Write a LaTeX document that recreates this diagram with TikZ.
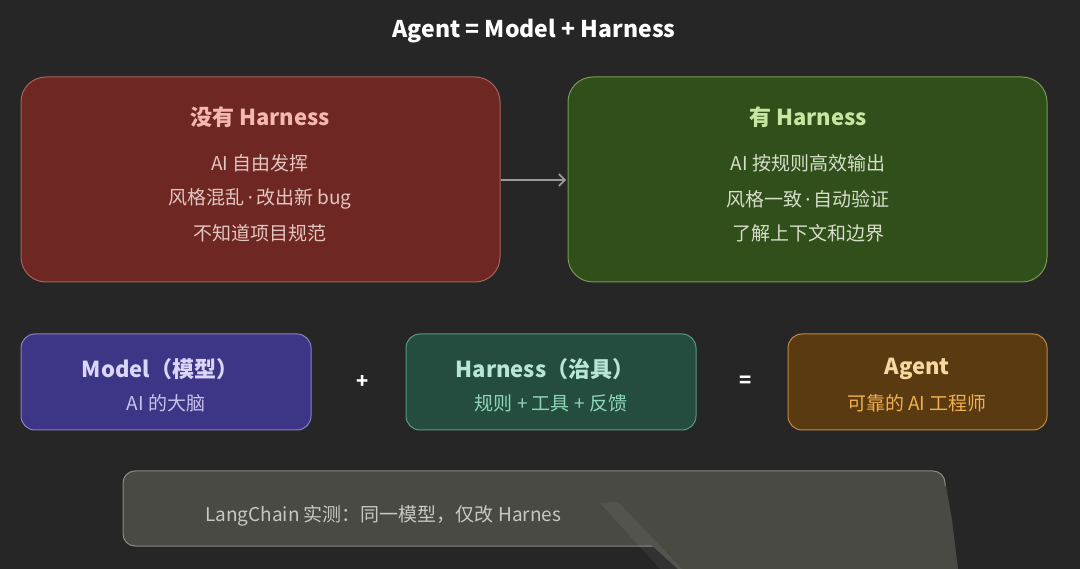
\documentclass[tikz,border=0pt]{standalone}
\usepackage{fontspec}
\setmainfont{Noto Sans CJK SC}
\newfontfamily\lat{Noto Sans}
\usetikzlibrary{arrows.meta}
\definecolor{bg}{HTML}{262626}
\definecolor{redfill}{HTML}{6E2722}
\definecolor{reddraw}{HTML}{A8625C}
\definecolor{redtitle}{HTML}{F4B8B0}
\definecolor{redtext}{HTML}{E2C6C0}
\definecolor{grnfill}{HTML}{304F1A}
\definecolor{grndraw}{HTML}{7A9A50}
\definecolor{grntitle}{HTML}{C6E6A2}
\definecolor{grntext}{HTML}{D6DECA}
\definecolor{modfill}{HTML}{3D3585}
\definecolor{moddraw}{HTML}{8A80C8}
\definecolor{modtitle}{HTML}{DAD6F8}
\definecolor{modtext}{HTML}{C8C2EE}
\definecolor{harfill}{HTML}{244D40}
\definecolor{hardraw}{HTML}{5A9A80}
\definecolor{hartitle}{HTML}{B8E6D6}
\definecolor{hartext}{HTML}{8FD6B6}
\definecolor{agtfill}{HTML}{5A3A10}
\definecolor{agtdraw}{HTML}{C08A40}
\definecolor{agttitle}{HTML}{F8D8A0}
\definecolor{agttext}{HTML}{F0B050}
\definecolor{notefill}{HTML}{4A4A45}
\definecolor{notedraw}{HTML}{8A8A85}
\definecolor{notetext}{HTML}{C8C8C0}
\definecolor{arrowc}{HTML}{9A9A9A}
\tikzset{
  bigbox/.style={rounded corners=25pt, line width=1pt},
  smallbox/.style={rounded corners=14pt, line width=1pt},
  ttl/.style={font=\fontsize{22}{26}\selectfont\bfseries, inner sep=0pt},
  body/.style={font=\fontsize{19}{23}\selectfont, inner sep=0pt},
  op/.style={font=\fontsize{20}{24}\selectfont\bfseries, text=white, inner sep=0pt}
}
\begin{document}
\begin{tikzpicture}[x=1pt,y=-1pt]
\fill[bg] (0,0) rectangle (1080,569);
\useasboundingbox (0,0) rectangle (1080,569);
\node[font=\fontsize{23}{27}\selectfont\bfseries, text=white, inner sep=0pt] (title) at (534,31) {Agent = Model + Harness};

% big boxes
\draw[bigbox, fill=redfill, draw=reddraw] (21,77) rectangle (500,282);
\node[ttl, text=redtitle] (nott) at (260,117) {没有 Harness};
\node[body, text=redtext] (no1) at (260,163) {AI 自由发挥};
\node[body, text=redtext] (no2) at (260,199) {风格混乱\,{\lat ·}\,改出新 bug};
\node[body, text=redtext] (no3) at (260,233) {不知道项目规范};

\draw[bigbox, fill=grnfill, draw=grndraw] (568,77) rectangle (1047,282);
\node[ttl, text=grntitle] (yestt) at (808,117) {有 Harness};
\node[body, text=grntext] (yes1) at (808,163) {AI 按规则高效输出};
\node[body, text=grntext] (yes2) at (808,199) {风格一致\,{\lat ·}\,自动验证};
\node[body, text=grntext] (yes3) at (808,233) {了解上下文和边界};

\coordinate (arrs) at (501,180);
\coordinate (arre) at (566,180);
\draw[arrowc, line width=1.6pt, -{Straight Barb[length=6pt,width=12pt]}] (arrs) -- (arre);

% row 2
\draw[smallbox, fill=modfill, draw=moddraw] (21,334) rectangle (311,430);
\node[ttl, text=modtitle] (modt) at (160,369) {Model（模型）};
\node[body, text=modtext] (mods) at (166,403) {AI 的大脑};

\node[op] (plus) at (363,382) {+};

\draw[smallbox, fill=harfill, draw=hardraw] (406,334) rectangle (696,430);
\node[ttl, text=hartitle] (hart) at (545,369) {Harness（治具）};
\node[body, text=hartext] (hars) at (551,403) {规则 + 工具 + 反馈};

\node[op] (eq) at (746,382) {=};

\draw[smallbox, fill=agtfill, draw=agtdraw] (788,334) rectangle (1047,430);
\node[ttl, text=agttitle] (agtt) at (917,369) {Agent};
\node[body, text=agttext] (agts) at (917,403) {可靠的 AI 工程师};

% bottom note
\draw[rounded corners=12pt, line width=1pt, fill=notefill, draw=notedraw] (123,471) rectangle (945,546);
\node[body, text=notetext, anchor=west] (note) at (205,516) {LangChain 实测：同一模型，仅改 Harnes};

% smear overlay (covers the end of the note)
\fill[notefill] (597,508) -- (600,503) -- (618,502) -- (940,486) -- (946,486) -- (952,520) -- (958,569) -- (678,569) -- (640,535) -- cycle;
\fill[white, fill opacity=0.06] (600,503) -- (618,502) -- (682,569) -- (660,569) -- cycle;
\end{tikzpicture}
\end{document}
